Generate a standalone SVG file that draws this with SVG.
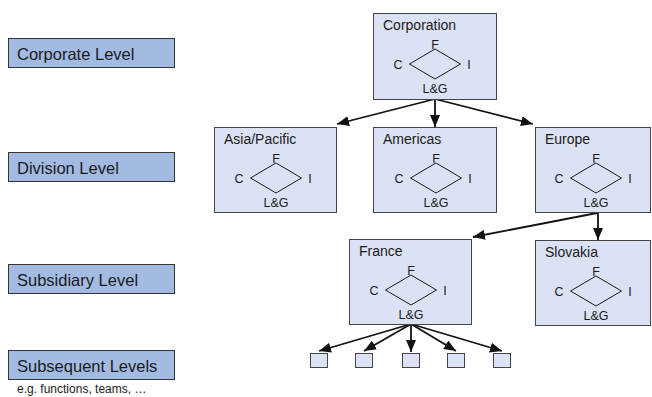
<svg xmlns="http://www.w3.org/2000/svg" width="652" height="397" viewBox="0 0 652 397">
<defs>
<style>
.lvl{fill:#a3bbe3;stroke:#333;stroke-width:1}
.lvt{font-family:"Liberation Sans",Arial,sans-serif;font-size:16.5px;fill:#1a1a1a}
.nd{fill:#dce2f6;stroke:#444;stroke-width:1}
.tt{font-family:"Liberation Sans",Arial,sans-serif;font-size:14px;fill:#1a1a1a}
.lb{font-family:"Liberation Sans",Arial,sans-serif;font-size:12.5px;fill:#1a1a1a;text-anchor:middle}
.dm{fill:none;stroke:#1a1a1a;stroke-width:1}
.cn{fill:none;stroke:#111;stroke-width:1.8;marker-end:url(#ah)}
.sm{fill:#dce2f6;stroke:#444;stroke-width:1}
</style>
<marker id="ah" viewBox="0 0 12 10" refX="12" refY="5" markerWidth="12" markerHeight="10" markerUnits="userSpaceOnUse" orient="auto">
<path d="M0,0 L12,5 L0,10 z" fill="#111"/>
</marker>
<g id="dia">
<polygon class="dm" points="0,-15 25.5,0 0,15 -25.5,0"/>
<text class="lb" fill="#1a1a1a" x="0" y="-15">F</text>
<text class="lb" fill="#1a1a1a" x="-37" y="4.5">C</text>
<text class="lb" fill="#1a1a1a" x="34" y="4.5">I</text>
<text class="lb" fill="#1a1a1a" x="0" y="29">L&amp;G</text>
</g>
</defs>
<rect width="652" height="397" fill="#fff"/>

<g id="level-corporate"><rect class="lvl" x="8.5" y="38.5" width="166" height="29"/><text class="lvt" x="17" y="59.5">Corporate Level</text></g>
<g id="level-division"><rect class="lvl" x="8.5" y="152.5" width="166" height="29"/><text class="lvt" x="17" y="173.5">Division Level</text></g>
<g id="level-subsidiary"><rect class="lvl" x="8.5" y="264.5" width="166" height="29"/><text class="lvt" x="17" y="285.5">Subsidiary Level</text></g>
<g id="level-subsequent"><rect class="lvl" x="8.5" y="350.5" width="166" height="29"/><text class="lvt" x="17" y="371.5">Subsequent Levels</text>
<text x="17" y="393" font-family="Liberation Sans, Arial, sans-serif" font-size="12" fill="#1a1a1a">e.g. functions, teams, …</text></g>

<g id="connectors">
<line class="cn" x1="435" y1="99" x2="337" y2="124"/>
<line class="cn" x1="435" y1="99" x2="435" y2="127"/>
<line class="cn" x1="435" y1="99" x2="533" y2="124"/>
<line class="cn" x1="597" y1="213" x2="473" y2="237"/>
<line class="cn" x1="598" y1="213" x2="598" y2="240"/>
<line class="cn" x1="411" y1="324" x2="319" y2="351"/>
<line class="cn" x1="411" y1="324" x2="364" y2="351"/>
<line class="cn" x1="411" y1="324" x2="411" y2="352"/>
<line class="cn" x1="411" y1="324" x2="456" y2="351"/>
<line class="cn" x1="411" y1="324" x2="502" y2="351"/>
</g>

<g id="corporation"><rect class="nd" x="373.5" y="13.5" width="123" height="86"/><text class="tt" x="383" y="30">Corporation</text><use href="#dia" x="435" y="64"/></g>
<g id="asia-pacific"><rect class="nd" x="214.5" y="127.5" width="122" height="85"/><text class="tt" x="224" y="144">Asia/Pacific</text><use href="#dia" x="276" y="178"/></g>
<g id="americas"><rect class="nd" x="373.5" y="127.5" width="123" height="85"/><text class="tt" x="383" y="144">Americas</text><use href="#dia" x="436" y="178"/></g>
<g id="europe"><rect class="nd" x="535.5" y="127.5" width="115" height="85"/><text class="tt" x="545" y="144">Europe</text><use href="#dia" x="596" y="178"/></g>
<g id="france"><rect class="nd" x="349.5" y="239.5" width="122" height="85"/><text class="tt" x="359" y="256">France</text><use href="#dia" x="411" y="290"/></g>
<g id="slovakia"><rect class="nd" x="535.5" y="240.5" width="115" height="85"/><text class="tt" x="545" y="257">Slovakia</text><use href="#dia" x="596" y="291"/></g>

<g id="sub1"><rect class="sm" x="310.5" y="353.5" width="17" height="14"/></g>
<g id="sub2"><rect class="sm" x="355.5" y="353.5" width="17" height="14"/></g>
<g id="sub3"><rect class="sm" x="402.5" y="353.5" width="17" height="14"/></g>
<g id="sub4"><rect class="sm" x="447.5" y="353.5" width="17" height="14"/></g>
<g id="sub5"><rect class="sm" x="493.5" y="353.5" width="17" height="14"/></g>
</svg>
